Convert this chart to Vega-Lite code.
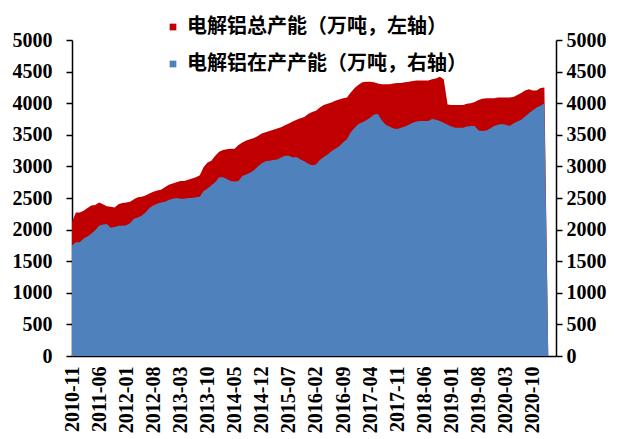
{
  "$schema": "https://vega.github.io/schema/vega-lite/v6.json",
  "width": 484,
  "height": 316,
  "autosize": {"type": "none"},
  "padding": {"left": 72, "top": 40, "right": 63, "bottom": 83},
  "background": "white",
  "config": {
    "view": {"stroke": null},
    "axis": {"labelFont": "Liberation Serif", "labelFontWeight": "bold", "labelColor": "black", "domainColor": "black", "tickColor": "black", "grid": false, "title": null}
  },
  "data": {"values": [
    {"m":"2010-11","total":2120,"running":1750},
    {"m":"2010-12","total":2270,"running":1800},
    {"m":"2011-01","total":2270,"running":1800},
    {"m":"2011-02","total":2300,"running":1860},
    {"m":"2011-03","total":2340,"running":1890},
    {"m":"2011-04","total":2380,"running":1940},
    {"m":"2011-05","total":2390,"running":1990},
    {"m":"2011-06","total":2430,"running":2060},
    {"m":"2011-07","total":2400,"running":2080},
    {"m":"2011-08","total":2370,"running":2090},
    {"m":"2011-09","total":2360,"running":2030},
    {"m":"2011-10","total":2350,"running":2040},
    {"m":"2011-11","total":2400,"running":2060},
    {"m":"2011-12","total":2420,"running":2060},
    {"m":"2012-01","total":2430,"running":2070},
    {"m":"2012-02","total":2440,"running":2100},
    {"m":"2012-03","total":2480,"running":2170},
    {"m":"2012-04","total":2510,"running":2190},
    {"m":"2012-05","total":2520,"running":2220},
    {"m":"2012-06","total":2540,"running":2270},
    {"m":"2012-07","total":2570,"running":2340},
    {"m":"2012-08","total":2600,"running":2380},
    {"m":"2012-09","total":2620,"running":2410},
    {"m":"2012-10","total":2630,"running":2430},
    {"m":"2012-11","total":2670,"running":2440},
    {"m":"2012-12","total":2710,"running":2470},
    {"m":"2013-01","total":2730,"running":2490},
    {"m":"2013-02","total":2750,"running":2500},
    {"m":"2013-03","total":2770,"running":2490},
    {"m":"2013-04","total":2770,"running":2490},
    {"m":"2013-05","total":2790,"running":2500},
    {"m":"2013-06","total":2810,"running":2500},
    {"m":"2013-07","total":2830,"running":2510},
    {"m":"2013-08","total":2860,"running":2520},
    {"m":"2013-09","total":2990,"running":2610},
    {"m":"2013-10","total":3060,"running":2650},
    {"m":"2013-11","total":3090,"running":2700},
    {"m":"2013-12","total":3170,"running":2750},
    {"m":"2014-01","total":3230,"running":2830},
    {"m":"2014-02","total":3260,"running":2830},
    {"m":"2014-03","total":3270,"running":2800},
    {"m":"2014-04","total":3280,"running":2770},
    {"m":"2014-05","total":3280,"running":2760},
    {"m":"2014-06","total":3340,"running":2770},
    {"m":"2014-07","total":3380,"running":2850},
    {"m":"2014-08","total":3410,"running":2870},
    {"m":"2014-09","total":3430,"running":2900},
    {"m":"2014-10","total":3450,"running":2940},
    {"m":"2014-11","total":3480,"running":3000},
    {"m":"2014-12","total":3520,"running":3050},
    {"m":"2015-01","total":3540,"running":3080},
    {"m":"2015-02","total":3560,"running":3090},
    {"m":"2015-03","total":3580,"running":3100},
    {"m":"2015-04","total":3600,"running":3110},
    {"m":"2015-05","total":3620,"running":3140},
    {"m":"2015-06","total":3650,"running":3170},
    {"m":"2015-07","total":3680,"running":3170},
    {"m":"2015-08","total":3710,"running":3140},
    {"m":"2015-09","total":3740,"running":3150},
    {"m":"2015-10","total":3760,"running":3110},
    {"m":"2015-11","total":3780,"running":3080},
    {"m":"2015-12","total":3830,"running":3040},
    {"m":"2016-01","total":3860,"running":3020},
    {"m":"2016-02","total":3880,"running":3030},
    {"m":"2016-03","total":3930,"running":3100},
    {"m":"2016-04","total":3970,"running":3150},
    {"m":"2016-05","total":3990,"running":3190},
    {"m":"2016-06","total":4010,"running":3240},
    {"m":"2016-07","total":4040,"running":3280},
    {"m":"2016-08","total":4060,"running":3320},
    {"m":"2016-09","total":4080,"running":3380},
    {"m":"2016-10","total":4090,"running":3430},
    {"m":"2016-11","total":4170,"running":3540},
    {"m":"2016-12","total":4240,"running":3610},
    {"m":"2017-01","total":4290,"running":3670},
    {"m":"2017-02","total":4330,"running":3700},
    {"m":"2017-03","total":4340,"running":3730},
    {"m":"2017-04","total":4340,"running":3770},
    {"m":"2017-05","total":4330,"running":3820},
    {"m":"2017-06","total":4310,"running":3830},
    {"m":"2017-07","total":4300,"running":3730},
    {"m":"2017-08","total":4300,"running":3660},
    {"m":"2017-09","total":4300,"running":3630},
    {"m":"2017-10","total":4310,"running":3600},
    {"m":"2017-11","total":4320,"running":3590},
    {"m":"2017-12","total":4320,"running":3610},
    {"m":"2018-01","total":4330,"running":3630},
    {"m":"2018-02","total":4340,"running":3660},
    {"m":"2018-03","total":4350,"running":3690},
    {"m":"2018-04","total":4360,"running":3710},
    {"m":"2018-05","total":4360,"running":3720},
    {"m":"2018-06","total":4360,"running":3720},
    {"m":"2018-07","total":4360,"running":3720},
    {"m":"2018-08","total":4380,"running":3750},
    {"m":"2018-09","total":4390,"running":3740},
    {"m":"2018-10","total":4420,"running":3720},
    {"m":"2018-11","total":4380,"running":3690},
    {"m":"2018-12","total":3980,"running":3660},
    {"m":"2019-01","total":3970,"running":3630},
    {"m":"2019-02","total":3970,"running":3610},
    {"m":"2019-03","total":3970,"running":3610},
    {"m":"2019-04","total":3970,"running":3610},
    {"m":"2019-05","total":3990,"running":3630},
    {"m":"2019-06","total":4000,"running":3640},
    {"m":"2019-07","total":4020,"running":3640},
    {"m":"2019-08","total":4050,"running":3570},
    {"m":"2019-09","total":4070,"running":3560},
    {"m":"2019-10","total":4080,"running":3570},
    {"m":"2019-11","total":4080,"running":3600},
    {"m":"2019-12","total":4080,"running":3640},
    {"m":"2020-01","total":4090,"running":3660},
    {"m":"2020-02","total":4090,"running":3670},
    {"m":"2020-03","total":4090,"running":3660},
    {"m":"2020-04","total":4090,"running":3640},
    {"m":"2020-05","total":4100,"running":3680},
    {"m":"2020-06","total":4130,"running":3710},
    {"m":"2020-07","total":4160,"running":3740},
    {"m":"2020-08","total":4200,"running":3790},
    {"m":"2020-09","total":4220,"running":3840},
    {"m":"2020-10","total":4200,"running":3890},
    {"m":"2020-11","total":4200,"running":3930},
    {"m":"2020-12","total":4240,"running":3960},
    {"m":"2021-01","total":4250,"running":4000},
    {"m":"2021-02","total":0,"running":0}
  ]},
  "encoding": {
    "x": {
      "field": "m", "type": "ordinal",
      "scale": {"type": "point", "padding": 0, "domain": ["2010-11","2010-12","2011-01","2011-02","2011-03","2011-04","2011-05","2011-06","2011-07","2011-08","2011-09","2011-10","2011-11","2011-12","2012-01","2012-02","2012-03","2012-04","2012-05","2012-06","2012-07","2012-08","2012-09","2012-10","2012-11","2012-12","2013-01","2013-02","2013-03","2013-04","2013-05","2013-06","2013-07","2013-08","2013-09","2013-10","2013-11","2013-12","2014-01","2014-02","2014-03","2014-04","2014-05","2014-06","2014-07","2014-08","2014-09","2014-10","2014-11","2014-12","2015-01","2015-02","2015-03","2015-04","2015-05","2015-06","2015-07","2015-08","2015-09","2015-10","2015-11","2015-12","2016-01","2016-02","2016-03","2016-04","2016-05","2016-06","2016-07","2016-08","2016-09","2016-10","2016-11","2016-12","2017-01","2017-02","2017-03","2017-04","2017-05","2017-06","2017-07","2017-08","2017-09","2017-10","2017-11","2017-12","2018-01","2018-02","2018-03","2018-04","2018-05","2018-06","2018-07","2018-08","2018-09","2018-10","2018-11","2018-12","2019-01","2019-02","2019-03","2019-04","2019-05","2019-06","2019-07","2019-08","2019-09","2019-10","2019-11","2019-12","2020-01","2020-02","2020-03","2020-04","2020-05","2020-06","2020-07","2020-08","2020-09","2020-10","2020-11","2020-12","2021-01","2021-02","2021-03","2021-04"]},
      "axis": {
        "values": ["2010-11","2011-06","2012-01","2012-08","2013-03","2013-10","2014-05","2014-12","2015-07","2016-02","2016-09","2017-04","2017-11","2018-06","2019-01","2019-08","2020-03","2020-10"],
        "labelAngle": -90, "labelFontSize": 20, "ticks": false, "labelPadding": 10, "domainWidth": 1.5, "labelOverlap": false
      }
    }
  },
  "layer": [
    {
      "mark": {"type": "area", "interpolate": "linear"},
      "encoding": {
        "y": {"field": "total", "type": "quantitative", "scale": {"domain": [0, 5000], "nice": false},
          "axis": {"orient": "left", "format": "d", "values": [0,500,1000,1500,2000,2500,3000,3500,4000,4500,5000], "labelFontSize": 20, "tickSize": 6, "domainWidth": 1.5, "tickWidth": 1.5, "labelPadding": 14}},
        "color": {"datum": "电解铝总产能（万吨，左轴）", "type": "nominal",
          "scale": {"domain": ["电解铝总产能（万吨，左轴）", "电解铝在产产能（万吨，右轴）"], "range": ["#C00000", "#4F81BD"]},
          "legend": {"orient": "none", "legendX": 91, "legendY": -23, "direction": "vertical", "title": null, "symbolType": "square", "symbolSize": 45, "symbolStrokeWidth": 0, "labelFont": "Noto Sans CJK SC", "labelFontWeight": "bold", "labelFontSize": 20, "labelColor": "black", "rowPadding": 17, "labelOffset": 4, "padding": 0, "labelLimit": 400}}
      }
    },
    {
      "mark": {"type": "area", "interpolate": "linear"},
      "encoding": {
        "y": {"field": "running", "type": "quantitative", "scale": {"domain": [0, 5000], "nice": false},
          "axis": {"orient": "right", "format": "d", "values": [0,500,1000,1500,2000,2500,3000,3500,4000,4500,5000], "labelFontSize": 20, "tickSize": 6, "domainWidth": 1.5, "tickWidth": 1.5, "labelPadding": 4}},
        "color": {"datum": "电解铝在产产能（万吨，右轴）", "type": "nominal"}
      }
    }
  ],
  "resolve": {"scale": {"y": "independent"}, "axis": {"y": "independent"}}
}
